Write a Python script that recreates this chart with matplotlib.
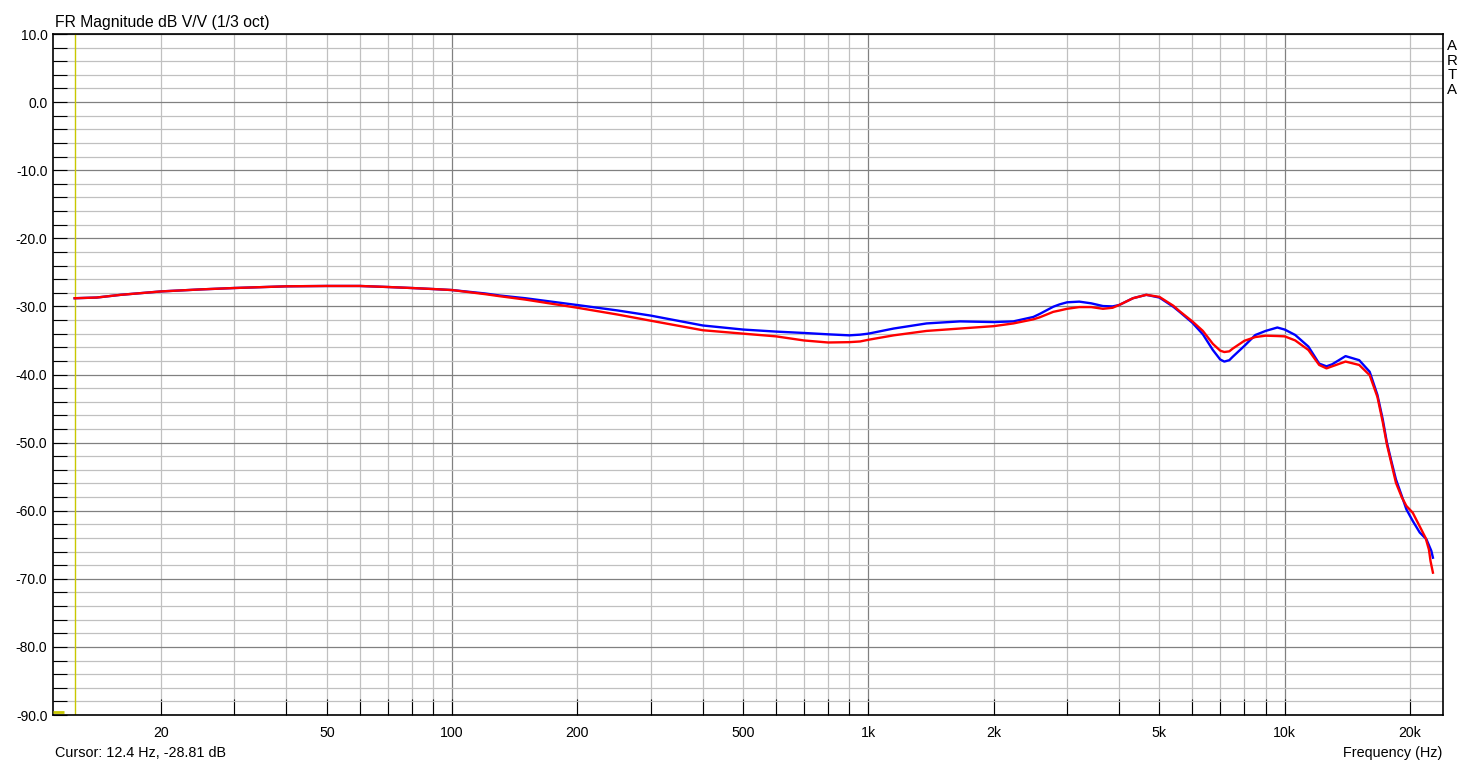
import numpy as np
import matplotlib
matplotlib.use("Agg")
import matplotlib.pyplot as plt
from matplotlib.ticker import FixedLocator, NullFormatter

plt.rcParams['font.family'] = ['Liberation Sans', 'DejaVu Sans']

# frequency points (Hz)
freq = [12.4, 14, 16, 20, 25, 30, 40, 50, 60, 70, 80, 90, 100, 120, 130, 150,
        200, 250, 300, 400, 500, 600, 700, 800, 900, 955, 1000, 1150, 1380, 1660,
        2000, 2230, 2490, 2580, 2780, 2880, 3000, 3210, 3430, 3660, 3860, 4000,
        4320, 4650, 5000, 5400, 5590, 6000, 6360, 6720, 7000, 7160, 7360, 7500,
        8000, 8500, 9000, 9600, 10000, 10600, 11400, 12100, 12600, 13000, 14000,
        15100, 16000, 16700, 17200, 17600, 18000, 18500, 19100, 19600, 20300,
        21100]

blue_db = [-28.8, -28.7, -28.3, -27.8, -27.5, -27.3, -27.05, -27.0, -27.0, -27.15,
           -27.3, -27.45, -27.6, -28.1, -28.4, -28.8,
           -29.8, -30.6, -31.35, -32.8, -33.4, -33.7, -33.9, -34.1, -34.25, -34.15,
           -34.0, -33.25, -32.5, -32.2,
           -32.3, -32.2, -31.55, -31.1, -30.05, -29.7, -29.4, -29.3, -29.55, -29.95,
           -30.0, -29.8,
           -28.8, -28.3, -28.7, -30.05, -30.8, -32.4, -34.1, -36.4, -37.8, -38.1,
           -37.9, -37.4,
           -35.8, -34.2, -33.6, -33.1, -33.4, -34.2, -35.9, -38.4, -38.8, -38.5,
           -37.3,
           -37.9, -39.6, -43.0, -46.6, -50.0, -52.5, -55.4, -57.8, -59.8, -61.5,
           -63.2]

red_db = [-28.8, -28.7, -28.3, -27.8, -27.5, -27.3, -27.05, -27.0, -27.0, -27.15,
          -27.3, -27.45, -27.6, -28.2, -28.5, -29.0,
          -30.2, -31.2, -32.1, -33.5, -34.0, -34.4, -35.0, -35.3, -35.25, -35.15,
          -34.9, -34.25, -33.6, -33.25,
          -32.9, -32.5, -31.9, -31.6, -30.8, -30.6, -30.35, -30.1, -30.1, -30.35,
          -30.2, -29.8,
          -28.8, -28.3, -28.6, -29.9, -30.7, -32.2, -33.6, -35.5, -36.5, -36.7,
          -36.6, -36.2,
          -35.05, -34.5, -34.3, -34.35, -34.4, -35.0, -36.4, -38.6, -39.1, -38.8,
          -38.1,
          -38.6, -40.1, -43.3, -47.0, -50.3, -52.8, -55.9, -58.0, -59.3, -60.3,
          -62.3]

# the two curves end a little differently
blue_tail_f = [21900, 22500, 22700]
blue_tail_db = [-64.2, -65.9, -66.9]
red_tail_f = [21800, 22200, 22400, 22700]
red_tail_db = [-64.0, -65.7, -67.4, -69.1]

x_label_pos = [20, 50, 100, 200, 500, 1000, 2000, 5000, 10000, 20000]
x_labels = ['20', '50', '100', '200', '500', '1k', '2k', '5k', '10k', '20k']
y_major = list(range(-90, 11, 10))

cursor_f = 12.4

W, H = 1465, 769
fig = plt.figure(figsize=(W / 100, H / 100), dpi=100)
ax = fig.add_axes([53 / W, 1 - 715 / H, (1443 - 53) / W, (715 - 34) / H])

ax.set_xscale('log')
ax.set_xlim(11.0, 24000)
ax.set_ylim(-90, 10)

# grid: decades dark, the rest light
dec_major = [100, 1000, 10000]
dec_minor = [m * d for d in [10, 100, 1000, 10000] for m in range(1, 10)
             if 11 < m * d < 24000 and m * d not in dec_major]
ax.xaxis.set_major_locator(FixedLocator(dec_major))
ax.xaxis.set_minor_locator(FixedLocator(dec_minor))
ax.xaxis.set_major_formatter(NullFormatter())
ax.xaxis.set_minor_formatter(NullFormatter())
ax.yaxis.set_major_locator(FixedLocator(y_major))
ax.yaxis.set_minor_locator(FixedLocator([v for v in range(-90, 11, 2) if v % 10]))
ax.set_yticklabels(['%.1f' % v for v in y_major])

ax.grid(which='major', color='#808080', lw=0.9, zorder=0)
ax.grid(which='minor', color='#c0c0c0', lw=0.9, zorder=0)
ax.set_axisbelow(True)

ax.tick_params(axis='x', which='both', direction='in', length=11.5, width=0.8,
               color='black', bottom=True, top=False)
ax.tick_params(axis='y', which='both', direction='in', length=10, width=0.8,
               color='black', left=True, right=False, labelsize=10, pad=4)

for f, lab in zip(x_label_pos, x_labels):
    ax.text(f, -0.016, lab, transform=ax.get_xaxis_transform(), ha='center',
            va='top', fontsize=10.2)

for sp in ax.spines.values():
    sp.set_color('black')
    sp.set_linewidth(1.2)

# cursor
ax.axvline(cursor_f, color='#c8c800', lw=1.0, zorder=2)
ax.plot([0.0, 0.008], [0.005, 0.005], transform=ax.transAxes, color='#c8c800',
        lw=2, solid_capstyle='butt', zorder=3, clip_on=False)

ax.plot(freq + blue_tail_f, blue_db + blue_tail_db, color='#0000ff', lw=1.7,
        zorder=4, solid_joinstyle='round')
ax.plot(freq + red_tail_f, red_db + red_tail_db, color='#ff0000', lw=1.7,
        zorder=5, solid_joinstyle='round')

fig.text(55 / W, 1 - 22 / H, 'FR Magnitude dB V/V (1/3 oct)', fontsize=11.3,
         ha='left', va='center')
fig.text(1452 / W, 1 - 68 / H, 'A\nR\nT\nA', fontsize=10.8, ha='center',
         va='center', linespacing=1.05)
fig.text(55 / W, 1 - 753 / H, 'Cursor: 12.4 Hz, -28.81 dB', fontsize=10.4,
         ha='left', va='center')
fig.text(1442 / W, 1 - 753 / H, 'Frequency (Hz)', fontsize=10.4, ha='right',
         va='center')

fig.savefig('out.png', dpi=100)
